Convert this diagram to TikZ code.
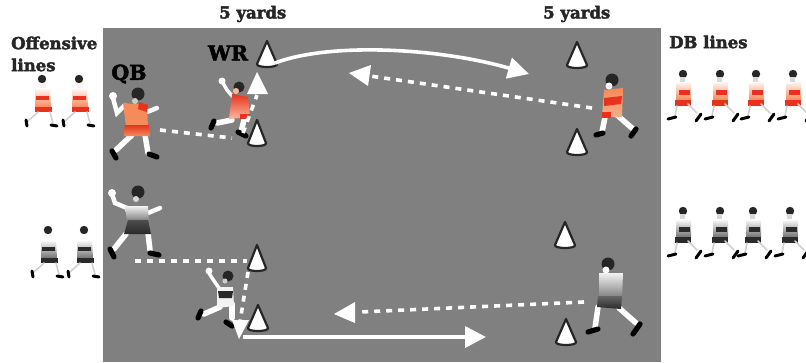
\documentclass[tikz,border=0pt]{standalone}
\usepackage{fontspec}
\setmainfont{DejaVu Serif}
\newfontfamily\heavyfont[FakeBold=2.5]{DejaVu Serif Bold}
\usetikzlibrary{arrows.meta}
\definecolor{field}{HTML}{808080}
\definecolor{kitred}{HTML}{E8321E}
\definecolor{kitorange}{HTML}{F58A5A}
\definecolor{kitdark}{HTML}{2A2A2A}
\definecolor{kitlight}{HTML}{F2F2F2}
\tikzset{
  heading/.style={inner sep=0pt,anchor=west,font=\heavyfont\fontsize{16.5}{17}\selectfont,text=black!85},
  tag/.style={inner sep=0pt,anchor=center,font=\heavyfont\fontsize{20.5}{21}\selectfont,text=black},
  arrowfill/.style={-{Triangle[width=21pt,length=21pt,fill=white]},white},
  route/.style={draw=white,line width=3.6pt,arrowfill},
  dashroute/.style={draw=white,line width=3.6pt,dash pattern=on 6pt off 6pt},
  dashtip/.style={fill=white,draw=none},
  limb/.style={draw=white,line width=5.5pt,line cap=round},
  limbthin/.style={draw=black!18,line width=1.6pt,line cap=round},
  shoe/.style={draw=black,line width=5.2pt,line cap=round},
  shoesmall/.style={draw=black,line width=3pt,line cap=round},
  conebody/.style={draw=black!85,fill=white,line width=2.2pt,line join=round},
  pics/offline/.style n args={3}{code={
    \fill[black!85] (-1,-2) circle (4.2pt);
    \fill[#1!12!white] (-3,2) rectangle (3,7);
    \shade[top color=#1!8!white,bottom color=#2,draw=none] (-8,8) -- (7,8) -- (8,26) -- (-8,26) -- cycle;
    \fill[#3] (-7,15) rectangle (6,19);
    \fill[#3] (-8,26) rectangle (9,31);
    \path[limbthin] (-5,31) -- (-15,40);
    \path[limbthin] (7,31) -- (10,42);
    \path[shoesmall] (-17,39) -- (-16,45);
    \path[shoesmall] (8,44) -- (14,45);
  }},
  pics/dbline/.style n args={3}{code={
    \fill[black!85] (1,-1) circle (4.2pt);
    \fill[black!15] (-2,2) rectangle (3,7);
    \shade[top color=#1!8!white,bottom color=#2,draw=none] (-6,9) -- (9,7) -- (9,25) -- (-6,25) -- cycle;
    \fill[#3] (-3,15) rectangle (8,20);
    \fill[#3] (-7,25) rectangle (9,31);
    \path[limbthin] (-5,31) -- (-7,41);
    \path[limbthin] (6,29) -- (15,38);
    \path[shoesmall] (-14,44) -- (-6,42);
    \path[shoesmall] (14,46) -- (19,39);
  }},
}
\newcommand{\conepath}[3]{% x, y of apex, half width
  \path[conebody] (#1,#2) -- ++(-#3,23) .. controls ++(-1,4) and ++(1,4) .. ++(#3*2,0) -- cycle;
}
\begin{document}
\begin{tikzpicture}[x=1pt,y=-1pt]
\useasboundingbox (0,0) rectangle (806,362);
\fill[field] (103,28) rectangle (661,362);

% headings
\node[heading] (h1) at (219,14) {5 yards};
\node[heading] (h2) at (543,14) {5 yards};
\node[heading] (h3) at (669,42) {DB lines};
\node[heading] (h4) at (11,43) {Offensive};
\node[heading] (h5) at (11,65) {lines};
\node[tag] (qb) at (129,74) {QB};
\node[tag] (wr) at (228,53) {WR};

% waiting lines
\pic at (43,81) {offline={kitorange}{kitorange}{kitred}};
\pic at (80,81) {offline={kitorange}{kitorange}{kitred}};
\pic at (49,232) {offline={white}{black!55}{kitdark}};
\pic at (85,232) {offline={white}{black!55}{kitdark}};
\foreach \x in {682,719,755,792}
  \pic at (\x,75) {dbline={kitorange}{kitorange}{kitred}};
\foreach \x in {682,719,752,789}
  \pic at (\x,212) {dbline={white}{black!55}{kitdark}};

% cones
\conepath{267}{41}{10}
\conepath{257}{120}{9}
\conepath{577}{42}{10}
\conepath{577}{129}{10}
\conepath{257}{245}{9}
\conepath{258}{305}{10}
\conepath{565}{222}{10}
\conepath{566}{319}{10}

% route end points
\coordinate (qbA) at (160,130);
\coordinate (wrA) at (232,138);
\coordinate (cutA) at (243,133);
\coordinate (cutAend) at (257,95);
\coordinate (tipA) at (257,72);
\coordinate (arcS) at (275,63);
\coordinate (arcE) at (529,74);
\coordinate (dbA) at (592,108);
\coordinate (passA) at (370,76);
\coordinate (tipB) at (349,73);
\coordinate (qbB) at (135,261);
\coordinate (wrB) at (247,261);
\coordinate (cutB) at (248,272);
\coordinate (cutBend) at (240,322);
\coordinate (tipC) at (239,339);
\coordinate (solS) at (243,337);
\coordinate (solE) at (486,337);
\coordinate (dbB) at (584,302);
\coordinate (passB) at (360,312);
\coordinate (tipD) at (334,314);

% runner WR red
\path[limb,line width=3.5pt] (233,97) -- (227,90) -- (223,83);
\fill[white] (222,81) circle (3.5pt);
\path[limb] (232,120) -- (217,123);
\path[limb] (244,120) -- (241,132);
\path[shoe] (211,128) -- (214,121);
\path[shoe] (238,132) -- (246,136);
\shade[top color=kitred,bottom color=kitorange!60!white] (232,94) -- (248,97) -- (250,117) -- (229,119) -- cycle;
\fill[kitred] (240,114) rectangle (250,119);
\fill[black!85] (239,87) circle (5.5pt);
\fill[kitorange!60!white] (236,91) circle (3pt);

% QB red
\path[limb,line width=4.5pt] (125,105) -- (117,113) -- (113,98);
\fill[white] (113,96) circle (4pt);
\path[limb,line width=4.5pt] (147,112) -- (157,108);
\path[limb] (132,135) -- (116,150);
\path[limb] (145,135) -- (148,153);
\path[shoe] (112,151) -- (116,158);
\path[shoe] (149,154) -- (157,157);
\fill[kitorange] (123,103) -- (147,105) -- (148,127) -- (126,127) -- cycle;
\fill[kitred] (139,102) -- (148,105) -- (147,112) -- (138,109) -- cycle;
\shade[top color=kitred,bottom color=kitorange] (125,125) -- (149,125) -- (150,136) -- (124,136) -- cycle;
\fill[black!85] (138,94) circle (6.5pt);
\fill[black!20] (135,101) circle (3pt);

% DB red
\path[limb] (605,117) -- (602,132);
\path[limb] (617,115) -- (633,129);
\path[shoe] (596,135) -- (603,133);
\path[shoe] (631,136) -- (636,129);
\shade[top color=kitorange,bottom color=kitorange!70!white] (604,90) -- (623,88) -- (622,117) -- (602,117) -- cycle;
\fill[kitred] (604,98) -- (622,96) -- (621,104) -- (604,106) -- cycle;
\fill[kitred] (602,112) rectangle (611,118);
\fill[black!85] (612,80) circle (6.5pt);
\fill[white] (609,86) circle (3.5pt);

% QB grey
\path[limb,line width=4.5pt] (127,208) -- (115,203) -- (112,194);
\fill[white] (112,193) circle (4pt);
\path[limb,line width=4.5pt] (148,213) -- (160,208);
\path[limb] (126,234) -- (114,249);
\path[limb] (148,233) -- (150,250);
\path[shoe] (110,249) -- (114,257);
\path[shoe] (150,253) -- (159,255);
\shade[top color=kitlight,bottom color=black!55] (125,206) -- (148,206) -- (149,222) -- (127,222) -- cycle;
\shade[top color=black!70,bottom color=kitdark] (128,220) -- (148,220) -- (151,234) -- (124,234) -- cycle;
\fill[black!85] (138,192) circle (6.5pt);
\fill[black!15] (136,199) circle (3pt);

% WR grey
\path[limb,line width=3.5pt] (219,288) -- (212,278) -- (209,273);
\fill[white] (209,271) circle (3.5pt);
\path[limb] (220,307) -- (204,314);
\path[limb] (232,304) -- (232,318);
\path[shoe] (198,318) -- (201,311);
\path[shoe] (226,322) -- (232,326);
\fill[kitlight] (217,287) -- (233,287) -- (234,306) -- (217,308) -- cycle;
\fill[kitdark] (218,291) -- (233,291) -- (232,298) -- (219,298) -- cycle;
\fill[black!85] (228,276) circle (5.5pt);
\fill[black!20] (225,281) circle (2.5pt);

% DB grey
\path[limb] (598,307) -- (595,328);
\path[limb] (619,308) -- (636,323);
\path[shoe] (588,332) -- (598,329);
\path[shoe] (633,334) -- (640,324);
\shade[top color=kitlight,bottom color=black!55] (599,273) -- (623,273) -- (622,300) -- (599,298) -- cycle;
\shade[top color=black!60,bottom color=kitdark] (598,296) -- (622,296) -- (621,309) -- (597,307) -- cycle;
\fill[black!85] (608,264) circle (6.5pt);
\fill[white] (606,270) circle (3.5pt);

% routes
\path[dashroute] (qbA) -- (wrA);
\path[dashroute] (cutA) -- (cutAend);
\fill[dashtip] (tipA) -- (268,94) -- (247,94) -- cycle;
\path[route] (arcS) .. controls (330,42) and (440,48) .. (arcE);
\path[dashroute] (dbA) -- (passA);
\fill[dashtip] (tipB) -- (371,65) -- (368,86) -- cycle;
\path[dashroute] (qbB) -- (wrB);
\path[dashroute] (cutB) -- (cutBend);
\fill[dashtip] (tipC) -- (249,320) -- (232,320) -- cycle;
\path[route] (solS) -- (solE);
\path[dashroute] (dbB) -- (passB);
\fill[dashtip] (tipD) -- (355,302) -- (355,323) -- cycle;
\end{tikzpicture}
\end{document}
